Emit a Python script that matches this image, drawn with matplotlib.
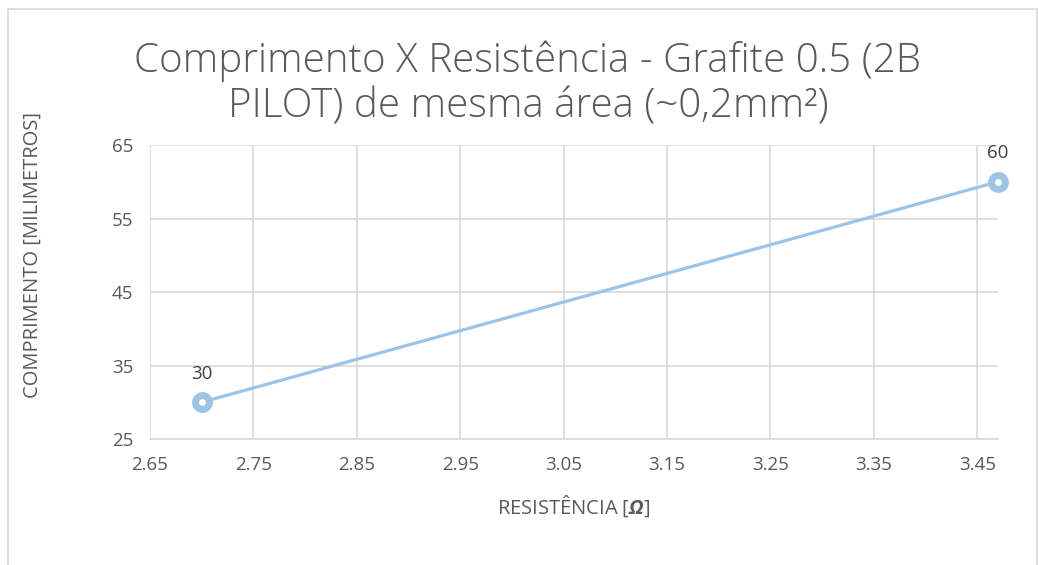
import matplotlib
matplotlib.use('Agg')
import matplotlib.pyplot as plt
from matplotlib.patches import Rectangle

resistencia = [2.70, 3.47]
comprimento = [30, 60]
xticks = [2.65, 2.75, 2.85, 2.95, 3.05, 3.15, 3.25, 3.35, 3.45]
yticks = [25, 35, 45, 55, 65]

plt.rcParams['font.family'] = ['Open Sans', 'DejaVu Sans']
plt.rcParams['mathtext.fontset'] = 'custom'
plt.rcParams['mathtext.bfit'] = 'Open Sans:italic:bold'
plt.rcParams['mathtext.it'] = 'Open Sans:italic'
grey = '#595959'
blue = '#9DC3E6'

fig = plt.figure(figsize=(10.38, 5.65), dpi=100)
fig.patches.append(Rectangle((8/1038, -0.01), 1029/1038, 1 - 9/565 + 0.01,
                             transform=fig.transFigure, fill=False,
                             edgecolor='#D9D9D9', lw=1.2))
ax = fig.add_axes([150/1038, 1-439/565, 848/1038, 294/565])

ax.plot(resistencia, comprimento, color=blue, lw=2.3, zorder=3)
ax.plot(resistencia, comprimento, 'o', ms=10, mfc='white', mec=blue, mew=5,
        zorder=4, clip_on=False)
for x, y in zip(resistencia, comprimento):
  ax.annotate('%d' % y, (x, y), xytext=(0, 14), textcoords='offset points',
              ha='center', va='bottom', fontsize=13.5, color='#404040')

ax.set_xlim(2.65, 3.47)
ax.set_ylim(25, 65)
ax.set_xticks(xticks)
ax.set_xticklabels(['%.2f' % t for t in xticks])
ax.set_yticks(yticks)
ax.grid(True, color='#D9D9D9', lw=1.2)
ax.set_axisbelow(True)
for s in ax.spines.values():
  s.set_visible(False)
ax.spines['bottom'].set_visible(True)
ax.spines['bottom'].set_color('#D9D9D9')
ax.spines['bottom'].set_linewidth(1.2)
ax.tick_params(length=0, labelsize=13.5, labelcolor=grey, pad=12)

ax.set_xlabel(r'RESISTÊNCIA [$\mathbfit{Ω}$]', fontsize=14.5, color=grey, labelpad=14)
ax.set_ylabel('COMPRIMENTO [MILIMETROS]', fontsize=14.5, color=grey)
ax.yaxis.set_label_coords(-0.127, 0.626)

fig.text(528/1038, 1-84/565, 'Comprimento X Resistência - Grafite 0.5 (2B\nPILOT) de mesma área (~0,2mm²)',
         ha='center', va='center', fontsize=29, color=grey, linespacing=1.17,
         fontweight='light')

fig.savefig('out.png', dpi=100)
